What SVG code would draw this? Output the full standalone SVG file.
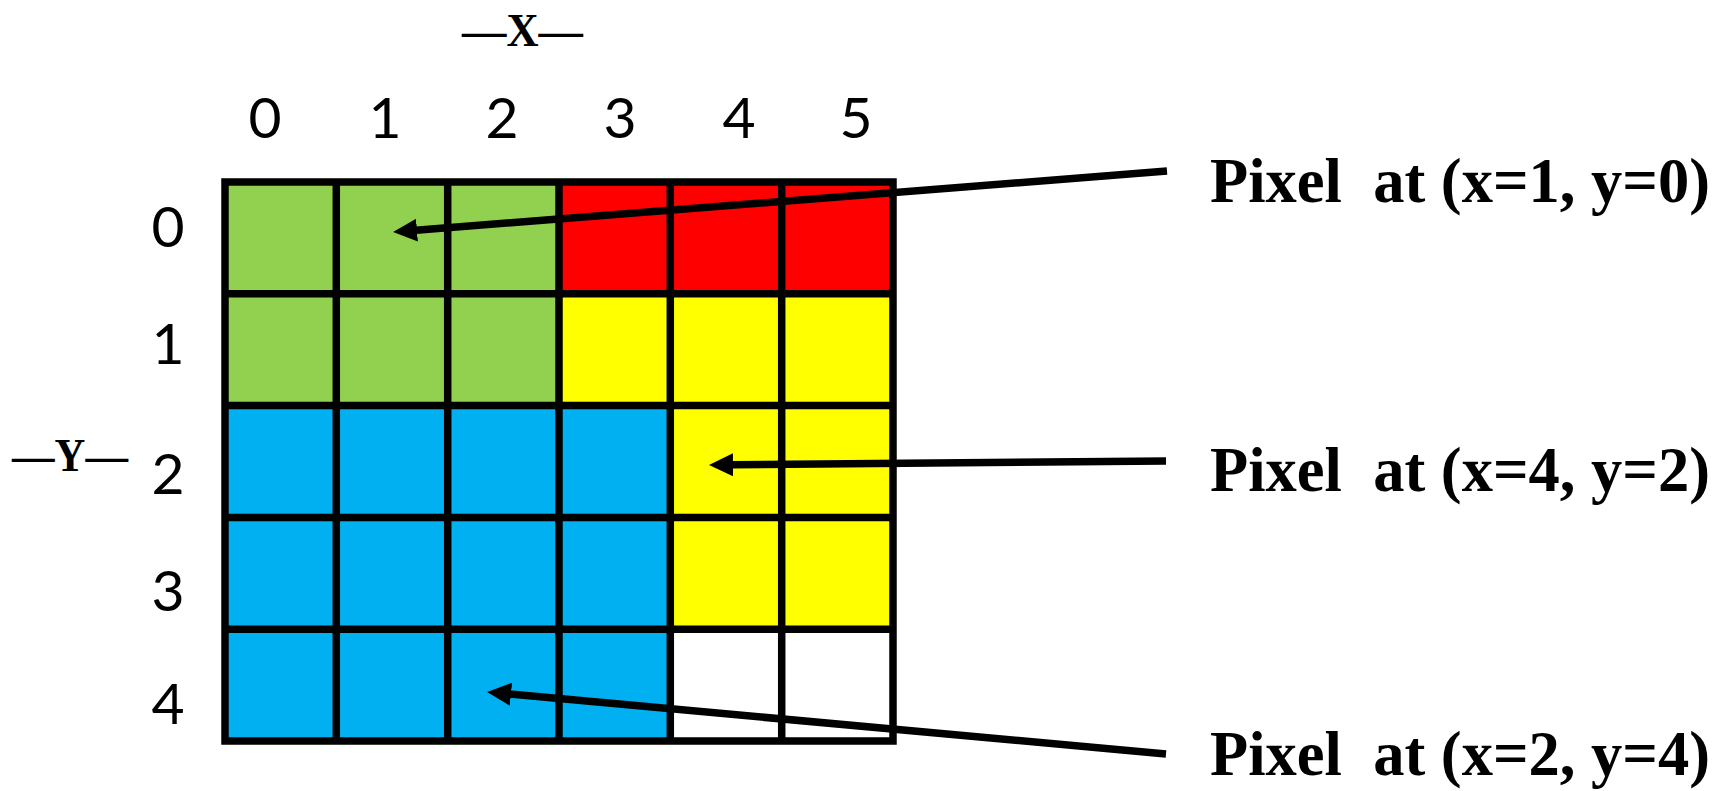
<svg xmlns="http://www.w3.org/2000/svg" width="1725" height="791" viewBox="0 0 1725 791">
<style>
.g{fill:#92D050}.r{fill:#FF0000}.y{fill:#FFFF00}.b{fill:#00B0F0}.w{fill:#FFFFFF}
.grid{fill:none;stroke:#000;stroke-width:7.5;stroke-linecap:square}
.num{font-family:Lato,"Liberation Sans",sans-serif;font-size:57px;fill:#000;text-anchor:middle}
.axis{font-family:"Liberation Serif",serif;font-weight:bold;font-size:47px;fill:#000}
.lbl{font-family:"Liberation Serif",serif;font-weight:bold;font-size:62.5px;fill:#000;white-space:pre}
.conn{stroke:#000;stroke-width:7.5;fill:none;marker-end:url(#ah)}
</style>
<defs>
<marker id="ah" markerUnits="userSpaceOnUse" markerWidth="26" markerHeight="26" refX="1" refY="11.5" orient="auto">
<path d="M0,0 L24,11.5 L0,23 Z" fill="#000"/>
</marker>
</defs>
<rect width="1725" height="791" fill="#fff"/>
<g id="pixel-grid">
<rect class="g" x="225" y="182" width="334" height="223.6"/>
<rect class="r" x="559" y="182" width="334" height="111.8"/>
<rect class="y" x="559" y="293.8" width="334" height="111.8"/>
<rect class="b" x="225" y="405.6" width="445.3" height="335.4"/>
<rect class="y" x="670.3" y="405.6" width="222.7" height="223.6"/>
<rect class="w" x="670.3" y="629.2" width="222.7" height="111.8"/>
<path class="grid" d="M225,182 H893 V741 H225 Z M336.3,182 V741 M447.7,182 V741 M559,182 V741 M670.3,182 V741 M781.7,182 V741 M225,293.8 H893 M225,405.6 H893 M225,517.4 H893 M225,629.2 H893"/>
</g>
<g id="x-axis">
<text class="axis" x="462" y="46" textLength="121" lengthAdjust="spacingAndGlyphs">—X—</text>
<text class="num" x="265" y="138">0</text>
<text class="num" x="385" y="138">1</text>
<text class="num" x="502" y="138">2</text>
<text class="num" x="620" y="138">3</text>
<text class="num" x="739" y="138">4</text>
<text class="num" x="856" y="138">5</text>
</g>
<g id="y-axis">
<text class="axis" x="12" y="471" textLength="116" lengthAdjust="spacingAndGlyphs">—Y—</text>
<text class="num" x="168" y="247">0</text>
<text class="num" x="168" y="364">1</text>
<text class="num" x="168" y="494">2</text>
<text class="num" x="168" y="611">3</text>
<text class="num" x="168" y="724">4</text>
</g>
<g id="label-1"><text class="lbl" x="1210" y="202">Pixel  at (x=1, y=0)</text></g>
<g id="label-2"><text class="lbl" x="1210" y="491">Pixel  at (x=4, y=2)</text></g>
<g id="label-3"><text class="lbl" x="1210" y="775">Pixel  at (x=2, y=4)</text></g>
<g id="connectors">
<line class="conn" x1="1167" y1="171" x2="416" y2="230.2"/>
<line class="conn" x1="1166" y1="461" x2="732" y2="464.8"/>
<line class="conn" x1="1166" y1="754" x2="510" y2="694.1"/>
</g>
</svg>
